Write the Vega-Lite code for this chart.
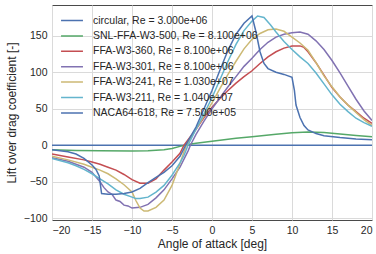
{
  "$schema": "https://vega.github.io/schema/vega-lite/v6.json",
  "width": 320,
  "height": 215,
  "autosize": "none",
  "padding": {"left": 52, "top": 5, "right": 4, "bottom": 34},
  "background": "white",
  "data": {"values": [
    {"s": "circular, Re = 3.000e+06", "a": -20, "c": 0},
    {"s": "circular, Re = 3.000e+06", "a": 0, "c": 0},
    {"s": "circular, Re = 3.000e+06", "a": 20, "c": 0},
    {"s": "SNL-FFA-W3-500, Re = 8.100e+06", "a": -20, "c": -6},
    {"s": "SNL-FFA-W3-500, Re = 8.100e+06", "a": -17, "c": -7},
    {"s": "SNL-FFA-W3-500, Re = 8.100e+06", "a": -14, "c": -7.5},
    {"s": "SNL-FFA-W3-500, Re = 8.100e+06", "a": -10, "c": -8},
    {"s": "SNL-FFA-W3-500, Re = 8.100e+06", "a": -8, "c": -7.5},
    {"s": "SNL-FFA-W3-500, Re = 8.100e+06", "a": -6, "c": -6},
    {"s": "SNL-FFA-W3-500, Re = 8.100e+06", "a": -5, "c": -4.5},
    {"s": "SNL-FFA-W3-500, Re = 8.100e+06", "a": -4, "c": -1.5},
    {"s": "SNL-FFA-W3-500, Re = 8.100e+06", "a": -3, "c": 1},
    {"s": "SNL-FFA-W3-500, Re = 8.100e+06", "a": -2, "c": 2.8},
    {"s": "SNL-FFA-W3-500, Re = 8.100e+06", "a": 0, "c": 5.5},
    {"s": "SNL-FFA-W3-500, Re = 8.100e+06", "a": 3, "c": 9.5},
    {"s": "SNL-FFA-W3-500, Re = 8.100e+06", "a": 5, "c": 11.5},
    {"s": "SNL-FFA-W3-500, Re = 8.100e+06", "a": 8, "c": 15},
    {"s": "SNL-FFA-W3-500, Re = 8.100e+06", "a": 10, "c": 17},
    {"s": "SNL-FFA-W3-500, Re = 8.100e+06", "a": 12, "c": 18},
    {"s": "SNL-FFA-W3-500, Re = 8.100e+06", "a": 14, "c": 17.5},
    {"s": "SNL-FFA-W3-500, Re = 8.100e+06", "a": 16, "c": 15.5},
    {"s": "SNL-FFA-W3-500, Re = 8.100e+06", "a": 18, "c": 13.5},
    {"s": "SNL-FFA-W3-500, Re = 8.100e+06", "a": 20, "c": 11.5},
    {"s": "FFA-W3-360, Re = 8.100e+06", "a": -20, "c": -12},
    {"s": "FFA-W3-360, Re = 8.100e+06", "a": -18, "c": -16},
    {"s": "FFA-W3-360, Re = 8.100e+06", "a": -16, "c": -20},
    {"s": "FFA-W3-360, Re = 8.100e+06", "a": -15, "c": -23},
    {"s": "FFA-W3-360, Re = 8.100e+06", "a": -14, "c": -26},
    {"s": "FFA-W3-360, Re = 8.100e+06", "a": -13, "c": -30},
    {"s": "FFA-W3-360, Re = 8.100e+06", "a": -12, "c": -34},
    {"s": "FFA-W3-360, Re = 8.100e+06", "a": -11, "c": -40},
    {"s": "FFA-W3-360, Re = 8.100e+06", "a": -10, "c": -47},
    {"s": "FFA-W3-360, Re = 8.100e+06", "a": -9, "c": -52},
    {"s": "FFA-W3-360, Re = 8.100e+06", "a": -8, "c": -52},
    {"s": "FFA-W3-360, Re = 8.100e+06", "a": -7, "c": -46},
    {"s": "FFA-W3-360, Re = 8.100e+06", "a": -6, "c": -34},
    {"s": "FFA-W3-360, Re = 8.100e+06", "a": -5, "c": -23},
    {"s": "FFA-W3-360, Re = 8.100e+06", "a": -4, "c": -11},
    {"s": "FFA-W3-360, Re = 8.100e+06", "a": -3.5, "c": 0},
    {"s": "FFA-W3-360, Re = 8.100e+06", "a": -2, "c": 22},
    {"s": "FFA-W3-360, Re = 8.100e+06", "a": -1, "c": 38},
    {"s": "FFA-W3-360, Re = 8.100e+06", "a": 0, "c": 52},
    {"s": "FFA-W3-360, Re = 8.100e+06", "a": 1, "c": 64},
    {"s": "FFA-W3-360, Re = 8.100e+06", "a": 2, "c": 75},
    {"s": "FFA-W3-360, Re = 8.100e+06", "a": 3, "c": 85},
    {"s": "FFA-W3-360, Re = 8.100e+06", "a": 4, "c": 94},
    {"s": "FFA-W3-360, Re = 8.100e+06", "a": 5, "c": 102},
    {"s": "FFA-W3-360, Re = 8.100e+06", "a": 6, "c": 112},
    {"s": "FFA-W3-360, Re = 8.100e+06", "a": 7, "c": 121},
    {"s": "FFA-W3-360, Re = 8.100e+06", "a": 8, "c": 128},
    {"s": "FFA-W3-360, Re = 8.100e+06", "a": 9, "c": 133},
    {"s": "FFA-W3-360, Re = 8.100e+06", "a": 10, "c": 136},
    {"s": "FFA-W3-360, Re = 8.100e+06", "a": 11, "c": 136},
    {"s": "FFA-W3-360, Re = 8.100e+06", "a": 11.5, "c": 134},
    {"s": "FFA-W3-360, Re = 8.100e+06", "a": 12, "c": 128},
    {"s": "FFA-W3-360, Re = 8.100e+06", "a": 13, "c": 113},
    {"s": "FFA-W3-360, Re = 8.100e+06", "a": 14, "c": 96},
    {"s": "FFA-W3-360, Re = 8.100e+06", "a": 15, "c": 79},
    {"s": "FFA-W3-360, Re = 8.100e+06", "a": 16, "c": 66},
    {"s": "FFA-W3-360, Re = 8.100e+06", "a": 17, "c": 55},
    {"s": "FFA-W3-360, Re = 8.100e+06", "a": 18, "c": 46},
    {"s": "FFA-W3-360, Re = 8.100e+06", "a": 19, "c": 37},
    {"s": "FFA-W3-360, Re = 8.100e+06", "a": 20, "c": 30},
    {"s": "FFA-W3-301, Re = 8.100e+06", "a": -20, "c": -17},
    {"s": "FFA-W3-301, Re = 8.100e+06", "a": -18, "c": -22},
    {"s": "FFA-W3-301, Re = 8.100e+06", "a": -16, "c": -30},
    {"s": "FFA-W3-301, Re = 8.100e+06", "a": -15, "c": -37},
    {"s": "FFA-W3-301, Re = 8.100e+06", "a": -14, "c": -50},
    {"s": "FFA-W3-301, Re = 8.100e+06", "a": -13.5, "c": -58},
    {"s": "FFA-W3-301, Re = 8.100e+06", "a": -13, "c": -64},
    {"s": "FFA-W3-301, Re = 8.100e+06", "a": -12.5, "c": -67},
    {"s": "FFA-W3-301, Re = 8.100e+06", "a": -12, "c": -75},
    {"s": "FFA-W3-301, Re = 8.100e+06", "a": -11.5, "c": -77},
    {"s": "FFA-W3-301, Re = 8.100e+06", "a": -11, "c": -82},
    {"s": "FFA-W3-301, Re = 8.100e+06", "a": -10.5, "c": -83},
    {"s": "FFA-W3-301, Re = 8.100e+06", "a": -10, "c": -86},
    {"s": "FFA-W3-301, Re = 8.100e+06", "a": -9, "c": -85},
    {"s": "FFA-W3-301, Re = 8.100e+06", "a": -8, "c": -81},
    {"s": "FFA-W3-301, Re = 8.100e+06", "a": -7, "c": -72},
    {"s": "FFA-W3-301, Re = 8.100e+06", "a": -6, "c": -61},
    {"s": "FFA-W3-301, Re = 8.100e+06", "a": -5, "c": -46},
    {"s": "FFA-W3-301, Re = 8.100e+06", "a": -4, "c": -30},
    {"s": "FFA-W3-301, Re = 8.100e+06", "a": -3, "c": -8},
    {"s": "FFA-W3-301, Re = 8.100e+06", "a": -2.7, "c": 0},
    {"s": "FFA-W3-301, Re = 8.100e+06", "a": -2, "c": 15},
    {"s": "FFA-W3-301, Re = 8.100e+06", "a": -1, "c": 33},
    {"s": "FFA-W3-301, Re = 8.100e+06", "a": 0, "c": 50},
    {"s": "FFA-W3-301, Re = 8.100e+06", "a": 1, "c": 65},
    {"s": "FFA-W3-301, Re = 8.100e+06", "a": 2, "c": 80},
    {"s": "FFA-W3-301, Re = 8.100e+06", "a": 3, "c": 94},
    {"s": "FFA-W3-301, Re = 8.100e+06", "a": 4, "c": 108},
    {"s": "FFA-W3-301, Re = 8.100e+06", "a": 5, "c": 119},
    {"s": "FFA-W3-301, Re = 8.100e+06", "a": 6, "c": 131},
    {"s": "FFA-W3-301, Re = 8.100e+06", "a": 7, "c": 141},
    {"s": "FFA-W3-301, Re = 8.100e+06", "a": 8, "c": 148},
    {"s": "FFA-W3-301, Re = 8.100e+06", "a": 9, "c": 152},
    {"s": "FFA-W3-301, Re = 8.100e+06", "a": 10, "c": 154},
    {"s": "FFA-W3-301, Re = 8.100e+06", "a": 11, "c": 155},
    {"s": "FFA-W3-301, Re = 8.100e+06", "a": 12, "c": 152},
    {"s": "FFA-W3-301, Re = 8.100e+06", "a": 13, "c": 143},
    {"s": "FFA-W3-301, Re = 8.100e+06", "a": 14, "c": 131},
    {"s": "FFA-W3-301, Re = 8.100e+06", "a": 15, "c": 116},
    {"s": "FFA-W3-301, Re = 8.100e+06", "a": 16, "c": 99},
    {"s": "FFA-W3-301, Re = 8.100e+06", "a": 17, "c": 81},
    {"s": "FFA-W3-301, Re = 8.100e+06", "a": 18, "c": 63},
    {"s": "FFA-W3-301, Re = 8.100e+06", "a": 19, "c": 47},
    {"s": "FFA-W3-301, Re = 8.100e+06", "a": 20, "c": 34},
    {"s": "FFA-W3-241, Re = 1.030e+07", "a": -20, "c": -15},
    {"s": "FFA-W3-241, Re = 1.030e+07", "a": -18, "c": -20},
    {"s": "FFA-W3-241, Re = 1.030e+07", "a": -16, "c": -26},
    {"s": "FFA-W3-241, Re = 1.030e+07", "a": -15, "c": -30},
    {"s": "FFA-W3-241, Re = 1.030e+07", "a": -14, "c": -34},
    {"s": "FFA-W3-241, Re = 1.030e+07", "a": -13, "c": -39},
    {"s": "FFA-W3-241, Re = 1.030e+07", "a": -12, "c": -46},
    {"s": "FFA-W3-241, Re = 1.030e+07", "a": -11, "c": -54},
    {"s": "FFA-W3-241, Re = 1.030e+07", "a": -10, "c": -64},
    {"s": "FFA-W3-241, Re = 1.030e+07", "a": -9.5, "c": -76},
    {"s": "FFA-W3-241, Re = 1.030e+07", "a": -9, "c": -86},
    {"s": "FFA-W3-241, Re = 1.030e+07", "a": -8.5, "c": -90},
    {"s": "FFA-W3-241, Re = 1.030e+07", "a": -8, "c": -90},
    {"s": "FFA-W3-241, Re = 1.030e+07", "a": -7, "c": -85},
    {"s": "FFA-W3-241, Re = 1.030e+07", "a": -6, "c": -75},
    {"s": "FFA-W3-241, Re = 1.030e+07", "a": -5, "c": -55},
    {"s": "FFA-W3-241, Re = 1.030e+07", "a": -4.5, "c": -40},
    {"s": "FFA-W3-241, Re = 1.030e+07", "a": -4, "c": -25},
    {"s": "FFA-W3-241, Re = 1.030e+07", "a": -3.5, "c": -9},
    {"s": "FFA-W3-241, Re = 1.030e+07", "a": -3.2, "c": 0},
    {"s": "FFA-W3-241, Re = 1.030e+07", "a": -2, "c": 22},
    {"s": "FFA-W3-241, Re = 1.030e+07", "a": -1, "c": 40},
    {"s": "FFA-W3-241, Re = 1.030e+07", "a": 0, "c": 58},
    {"s": "FFA-W3-241, Re = 1.030e+07", "a": 1, "c": 78},
    {"s": "FFA-W3-241, Re = 1.030e+07", "a": 2, "c": 97},
    {"s": "FFA-W3-241, Re = 1.030e+07", "a": 3, "c": 115},
    {"s": "FFA-W3-241, Re = 1.030e+07", "a": 4, "c": 132},
    {"s": "FFA-W3-241, Re = 1.030e+07", "a": 5, "c": 145},
    {"s": "FFA-W3-241, Re = 1.030e+07", "a": 6, "c": 153},
    {"s": "FFA-W3-241, Re = 1.030e+07", "a": 7, "c": 158},
    {"s": "FFA-W3-241, Re = 1.030e+07", "a": 8, "c": 159},
    {"s": "FFA-W3-241, Re = 1.030e+07", "a": 9, "c": 156},
    {"s": "FFA-W3-241, Re = 1.030e+07", "a": 10, "c": 148},
    {"s": "FFA-W3-241, Re = 1.030e+07", "a": 11, "c": 140},
    {"s": "FFA-W3-241, Re = 1.030e+07", "a": 12, "c": 130},
    {"s": "FFA-W3-241, Re = 1.030e+07", "a": 13, "c": 113},
    {"s": "FFA-W3-241, Re = 1.030e+07", "a": 14, "c": 95},
    {"s": "FFA-W3-241, Re = 1.030e+07", "a": 15, "c": 80},
    {"s": "FFA-W3-241, Re = 1.030e+07", "a": 16, "c": 66},
    {"s": "FFA-W3-241, Re = 1.030e+07", "a": 17, "c": 55},
    {"s": "FFA-W3-241, Re = 1.030e+07", "a": 18, "c": 45},
    {"s": "FFA-W3-241, Re = 1.030e+07", "a": 19, "c": 35},
    {"s": "FFA-W3-241, Re = 1.030e+07", "a": 20, "c": 27},
    {"s": "FFA-W3-211, Re = 1.040e+07", "a": -20, "c": -18},
    {"s": "FFA-W3-211, Re = 1.040e+07", "a": -18, "c": -24},
    {"s": "FFA-W3-211, Re = 1.040e+07", "a": -17, "c": -28},
    {"s": "FFA-W3-211, Re = 1.040e+07", "a": -16, "c": -33},
    {"s": "FFA-W3-211, Re = 1.040e+07", "a": -15, "c": -39},
    {"s": "FFA-W3-211, Re = 1.040e+07", "a": -14, "c": -46},
    {"s": "FFA-W3-211, Re = 1.040e+07", "a": -13, "c": -53},
    {"s": "FFA-W3-211, Re = 1.040e+07", "a": -12, "c": -61},
    {"s": "FFA-W3-211, Re = 1.040e+07", "a": -11, "c": -67},
    {"s": "FFA-W3-211, Re = 1.040e+07", "a": -10, "c": -71},
    {"s": "FFA-W3-211, Re = 1.040e+07", "a": -9.5, "c": -73},
    {"s": "FFA-W3-211, Re = 1.040e+07", "a": -9, "c": -73},
    {"s": "FFA-W3-211, Re = 1.040e+07", "a": -8, "c": -71},
    {"s": "FFA-W3-211, Re = 1.040e+07", "a": -7, "c": -64},
    {"s": "FFA-W3-211, Re = 1.040e+07", "a": -6, "c": -55},
    {"s": "FFA-W3-211, Re = 1.040e+07", "a": -5, "c": -41},
    {"s": "FFA-W3-211, Re = 1.040e+07", "a": -4, "c": -24},
    {"s": "FFA-W3-211, Re = 1.040e+07", "a": -3.5, "c": -14},
    {"s": "FFA-W3-211, Re = 1.040e+07", "a": -3, "c": 0},
    {"s": "FFA-W3-211, Re = 1.040e+07", "a": -2, "c": 22},
    {"s": "FFA-W3-211, Re = 1.040e+07", "a": -1, "c": 43},
    {"s": "FFA-W3-211, Re = 1.040e+07", "a": 0, "c": 65},
    {"s": "FFA-W3-211, Re = 1.040e+07", "a": 1, "c": 90},
    {"s": "FFA-W3-211, Re = 1.040e+07", "a": 2, "c": 115},
    {"s": "FFA-W3-211, Re = 1.040e+07", "a": 3, "c": 138},
    {"s": "FFA-W3-211, Re = 1.040e+07", "a": 4, "c": 157},
    {"s": "FFA-W3-211, Re = 1.040e+07", "a": 5, "c": 170},
    {"s": "FFA-W3-211, Re = 1.040e+07", "a": 5.7, "c": 177},
    {"s": "FFA-W3-211, Re = 1.040e+07", "a": 6.5, "c": 175},
    {"s": "FFA-W3-211, Re = 1.040e+07", "a": 7.3, "c": 165},
    {"s": "FFA-W3-211, Re = 1.040e+07", "a": 8, "c": 155},
    {"s": "FFA-W3-211, Re = 1.040e+07", "a": 9, "c": 142},
    {"s": "FFA-W3-211, Re = 1.040e+07", "a": 10, "c": 131},
    {"s": "FFA-W3-211, Re = 1.040e+07", "a": 11, "c": 121},
    {"s": "FFA-W3-211, Re = 1.040e+07", "a": 12, "c": 112},
    {"s": "FFA-W3-211, Re = 1.040e+07", "a": 13, "c": 99},
    {"s": "FFA-W3-211, Re = 1.040e+07", "a": 14, "c": 84},
    {"s": "FFA-W3-211, Re = 1.040e+07", "a": 15, "c": 69},
    {"s": "FFA-W3-211, Re = 1.040e+07", "a": 16, "c": 56},
    {"s": "FFA-W3-211, Re = 1.040e+07", "a": 17, "c": 46},
    {"s": "FFA-W3-211, Re = 1.040e+07", "a": 18, "c": 37},
    {"s": "FFA-W3-211, Re = 1.040e+07", "a": 19, "c": 31},
    {"s": "FFA-W3-211, Re = 1.040e+07", "a": 20, "c": 26},
    {"s": "NACA64-618, Re = 7.500e+05", "a": -20, "c": -6},
    {"s": "NACA64-618, Re = 7.500e+05", "a": -18, "c": -9},
    {"s": "NACA64-618, Re = 7.500e+05", "a": -17, "c": -12},
    {"s": "NACA64-618, Re = 7.500e+05", "a": -16, "c": -18},
    {"s": "NACA64-618, Re = 7.500e+05", "a": -15, "c": -27},
    {"s": "NACA64-618, Re = 7.500e+05", "a": -14.5, "c": -33},
    {"s": "NACA64-618, Re = 7.500e+05", "a": -14.1, "c": -42},
    {"s": "NACA64-618, Re = 7.500e+05", "a": -13.8, "c": -66},
    {"s": "NACA64-618, Re = 7.500e+05", "a": -13, "c": -67},
    {"s": "NACA64-618, Re = 7.500e+05", "a": -12, "c": -67},
    {"s": "NACA64-618, Re = 7.500e+05", "a": -11, "c": -66},
    {"s": "NACA64-618, Re = 7.500e+05", "a": -10, "c": -64},
    {"s": "NACA64-618, Re = 7.500e+05", "a": -9, "c": -59},
    {"s": "NACA64-618, Re = 7.500e+05", "a": -8, "c": -51},
    {"s": "NACA64-618, Re = 7.500e+05", "a": -7, "c": -44},
    {"s": "NACA64-618, Re = 7.500e+05", "a": -6, "c": -37},
    {"s": "NACA64-618, Re = 7.500e+05", "a": -5, "c": -28},
    {"s": "NACA64-618, Re = 7.500e+05", "a": -4, "c": -15},
    {"s": "NACA64-618, Re = 7.500e+05", "a": -3.3, "c": 0},
    {"s": "NACA64-618, Re = 7.500e+05", "a": -2, "c": 25},
    {"s": "NACA64-618, Re = 7.500e+05", "a": -1, "c": 50},
    {"s": "NACA64-618, Re = 7.500e+05", "a": 0, "c": 75},
    {"s": "NACA64-618, Re = 7.500e+05", "a": 1, "c": 103},
    {"s": "NACA64-618, Re = 7.500e+05", "a": 2, "c": 130},
    {"s": "NACA64-618, Re = 7.500e+05", "a": 3, "c": 152},
    {"s": "NACA64-618, Re = 7.500e+05", "a": 4, "c": 167},
    {"s": "NACA64-618, Re = 7.500e+05", "a": 5, "c": 177},
    {"s": "NACA64-618, Re = 7.500e+05", "a": 5.5, "c": 155},
    {"s": "NACA64-618, Re = 7.500e+05", "a": 6, "c": 128},
    {"s": "NACA64-618, Re = 7.500e+05", "a": 6.5, "c": 112},
    {"s": "NACA64-618, Re = 7.500e+05", "a": 7, "c": 105},
    {"s": "NACA64-618, Re = 7.500e+05", "a": 8, "c": 100},
    {"s": "NACA64-618, Re = 7.500e+05", "a": 9, "c": 97},
    {"s": "NACA64-618, Re = 7.500e+05", "a": 10, "c": 93},
    {"s": "NACA64-618, Re = 7.500e+05", "a": 10.3, "c": 75},
    {"s": "NACA64-618, Re = 7.500e+05", "a": 10.5, "c": 55},
    {"s": "NACA64-618, Re = 7.500e+05", "a": 11, "c": 38},
    {"s": "NACA64-618, Re = 7.500e+05", "a": 11.5, "c": 27},
    {"s": "NACA64-618, Re = 7.500e+05", "a": 12, "c": 21},
    {"s": "NACA64-618, Re = 7.500e+05", "a": 13, "c": 16},
    {"s": "NACA64-618, Re = 7.500e+05", "a": 14, "c": 13},
    {"s": "NACA64-618, Re = 7.500e+05", "a": 16, "c": 10.5},
    {"s": "NACA64-618, Re = 7.500e+05", "a": 18, "c": 8.5},
    {"s": "NACA64-618, Re = 7.500e+05", "a": 20, "c": 7.5}
  ]},
  "mark": {"type": "line", "strokeWidth": 1.5, "clip": true},
  "encoding": {
    "x": {"field": "a", "type": "quantitative", "scale": {"domain": [-20, 20], "nice": false, "zero": false},
      "axis": {"values": [-20, -15, -10, -5, 0, 5, 10, 15, 20], "title": "Angle of attack [deg]", "titlePadding": 3}},
    "y": {"field": "c", "type": "quantitative", "scale": {"domain": [-102.3, 192], "nice": false, "zero": false},
      "axis": {"values": [-100, -50, 0, 50, 100, 150], "title": "Lift over drag coefficient [-]", "titlePadding": 5}},
    "color": {"field": "s", "type": "nominal",
      "scale": {"domain": ["circular, Re = 3.000e+06", "SNL-FFA-W3-500, Re = 8.100e+06", "FFA-W3-360, Re = 8.100e+06", "FFA-W3-301, Re = 8.100e+06", "FFA-W3-241, Re = 1.030e+07", "FFA-W3-211, Re = 1.040e+07", "NACA64-618, Re = 7.500e+05"],
        "range": ["#4C72B0", "#55A868", "#C44E52", "#8172B2", "#CCB974", "#64B5CD", "#4C72B0"]},
      "legend": {"title": null, "orient": "none", "legendX": 8, "legendY": 9, "symbolType": "stroke", "symbolSize": 480, "symbolStrokeWidth": 1.5, "labelFontSize": 10.5, "labelColor": "#262626", "clipHeight": 13, "rowPadding": 2.4, "labelOffset": 9, "labelLimit": 300}}
  },
  "config": {
    "font": "Liberation Sans",
    "view": {"stroke": "#4a4a4a", "strokeWidth": 1},
    "axis": {"grid": true, "gridColor": "#dadada", "gridWidth": 1, "domain": false, "ticks": false, "labelFontSize": 10.5, "labelColor": "#262626", "titleFontSize": 12, "titleFontWeight": "normal", "titleColor": "#262626", "labelPadding": 5}
  }
}
